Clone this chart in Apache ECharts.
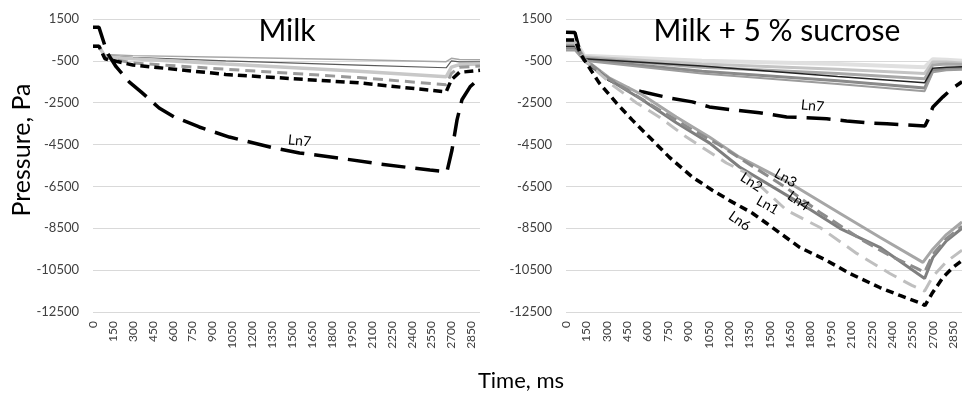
<!DOCTYPE html>
<html>
<head>
<meta charset="utf-8">
<script src="https://cdn.jsdelivr.net/npm/echarts@6/dist/echarts.min.js"></script>
<style>
html,body{margin:0;padding:0;background:#fff;}
#c{width:962px;height:395px;}
</style>
</head>
<body>
<div id="c"></div>
<script>
// ---------- DATA ----------
// Y ticks
var yTicks = [-12500, -10500, -8500, -6500, -4500, -2500, -500, 1500];
var xTickStep = 150;
var xMax = 2915;

// Milk panel (time ms, pressure Pa)
var milkT        = [0, 45, 90, 300, 1000, 2000, 2660, 2700, 2760, 2915];
var milkTop1     = [200, 200, -200, -250, -330, -450, -540, -380, -430, -450];
var milkTop2     = [200, 200, -250, -330, -500, -700, -830, -500, -550, -550];
var milkLight    = [200, 200, -300, -400, -650, -1000, -1260, -800, -680, -650];
var milkGrayDash = [200, 200, -350, -600, -900, -1300, -1640, -1100, -800, -750];
var milkBlackDash= [200, 200, -400, -700, -1150, -1550, -1980, -1400, -1050, -950];
var milkLn7T = [0, 45, 106, 174, 272, 362, 498, 612, 800, 1027, 1367, 1556, 1858, 2160, 2538, 2666, 2704, 2742, 2779, 2840, 2915];
var milkLn7V = [1100, 1100, -100, -780, -1500, -1980, -2750, -3180, -3660, -4140, -4670, -4900, -5150, -5430, -5720, -5800, -4760, -3320, -2360, -1740, -1300];

// Milk + 5 % sucrose panel
var sucT  = [0, 66, 133, 1000, 2000, 2640, 2700, 2800, 2915];
var sucS1 = [500, 500, -250, -500, -650, -800, -420, -450, -500];
var sucS2 = [400, 400, -300, -650, -900, -1100, -550, -550, -600];
var sucS3 = [300, 300, -350, -800, -1100, -1350, -700, -650, -680];
var sucS4 = [200, 200, -400, -750, -1250, -1550, -850, -800, -780];
var sucS5 = [100, 100, -450, -1000, -1450, -1800, -950, -880, -850];
var sucS6 = [0, 0, -500, -1100, -1600, -1950, -1050, -950, -920];

var sucLn7T = [0, 66, 100, 133, 317, 443, 561, 760, 930, 1055, 1225, 1424, 1624, 1771, 1919, 2066, 2214, 2362, 2509, 2642, 2664, 2701, 2775, 2849, 2915];
var sucLn7V = [870, 850, 0, -450, -1400, -1790, -1980, -2270, -2460, -2700, -2840, -2980, -3180, -3220, -3270, -3370, -3460, -3510, -3560, -3610, -3320, -2700, -2220, -1790, -1500];

var sucLn6T = [0, 66, 110, 148, 244, 369, 487, 613, 760, 930, 1077, 1225, 1373, 1476, 1720, 1919, 2089, 2310, 2458, 2620, 2642, 2694, 2775, 2849, 2915];
var sucLn6V = [500, 500, -200, -590, -1550, -2500, -3320, -4140, -5100, -6050, -6680, -7250, -7780, -8260, -9410, -10040, -10660, -11330, -11710, -12100, -12190, -11620, -10850, -10370, -10040];

var sucLn3T = [0, 66, 133, 317, 561, 812, 1055, 1277, 1646, 2015, 2310, 2627, 2700, 2800, 2915];
var sucLn3V = [400, 400, -400, -1310, -2120, -3180, -4140, -5100, -6340, -7780, -8930, -10130, -9500, -8800, -8200];

var sucLn2T = [0, 66, 133, 317, 561, 812, 1055, 1277, 1771, 2015, 2310, 2640, 2700, 2800, 2915];
var sucLn2V = [300, 300, -450, -1400, -2360, -3460, -4420, -5570, -7490, -8500, -9410, -10900, -9900, -9100, -8500];

var sucLn4T = [0, 66, 133, 317, 686, 930, 1129, 1624, 1867, 2185, 2384, 2583, 2640, 2700, 2800, 2915];
var sucLn4V = [350, 350, -420, -1350, -2840, -3800, -4520, -6580, -7730, -9080, -9800, -10420, -10600, -9750, -9000, -8400];

var sucLn1T = [0, 66, 133, 339, 517, 686, 886, 1181, 1328, 1624, 1867, 2140, 2384, 2546, 2640, 2700, 2800, 2915];
var sucLn1V = [350, 350, -450, -1640, -2500, -3180, -4140, -5380, -5860, -7640, -8450, -9700, -10660, -11230, -11500, -10800, -10100, -9550];

// line label anchors [time, pressure]
var milkLn7Label = [1556, -4330];
var sucLn7Label = [1815, -2650];
var sucLn3Label = [1616, -6100];
var sucLn4Label = [1712, -7200];
var sucLn2Label = [1365, -6300];
var sucLn1Label = [1483, -7400];
var sucLn6Label = [1277, -8160];

// ---------- CHART ----------
function pairs(t, v) { return t.map(function (x, i) { return [x, v[i]]; }); }
var FONT = 'Lato, "Open Sans", sans-serif';

function lbl(name, coord, rot) {
  return {
    symbol: 'rect', symbolSize: 1, silent: true,
    itemStyle: { color: 'rgba(0,0,0,0)' },
    label: { show: true, position: 'inside', formatter: name, rotate: rot, color: '#000', fontSize: 14, fontFamily: FONT },
    data: [{ coord: coord, name: name }]
  };
}

function line(idx, t, v, color, width, dash, mp) {
  var s = {
    type: 'line', xAxisIndex: idx, yAxisIndex: idx, data: pairs(t, v),
    symbol: 'none', smooth: false, silent: true,
    lineStyle: { color: color, width: width, type: dash || 'solid', cap: 'butt' },
    z: 3
  };
  if (mp) s.markPoint = mp;
  return s;
}

function xAxis(idx) {
  return {
    type: 'value', gridIndex: idx, min: 0, max: xMax, interval: xTickStep,
    axisLine: { show: false }, axisTick: { show: false }, splitLine: { show: false },
    axisLabel: {
      rotate: 90, margin: 9, fontSize: 12, color: '#404040', fontFamily: FONT,
      formatter: function (v) { return (v % xTickStep === 0) ? String(v) : ''; }
    }
  };
}
function yAxis(idx) {
  return {
    type: 'value', gridIndex: idx, min: yTicks[0], max: yTicks[yTicks.length - 1], interval: 2000,
    axisLine: { show: false }, axisTick: { show: false },
    splitLine: { show: true, lineStyle: { color: '#d9d9d9', width: 1 } },
    axisLabel: { margin: 14, fontSize: 13, color: '#404040', fontFamily: FONT,
      formatter: function (v) { return String(v); } }
  };
}

var chart = echarts.init(document.getElementById('c'), null, { renderer: 'canvas' });

chart.setOption({
  animation: false,
  backgroundColor: '#fff',
  grid: [
    { left: 93, top: 19, width: 387, height: 293 },
    { left: 566, top: 19, width: 396, height: 293 }
  ],
  xAxis: [xAxis(0), xAxis(1)],
  yAxis: [yAxis(0), yAxis(1)],
  graphic: [
    { type: 'text', x: 287, y: 31, style: { text: 'Milk', font: '30px ' + FONT, fill: '#000', textAlign: 'center', textVerticalAlign: 'middle' }, z: 10 },
    { type: 'text', x: 777, y: 31, style: { text: 'Milk + 5 % sucrose', font: '30px ' + FONT, fill: '#000', textAlign: 'center', textVerticalAlign: 'middle' }, z: 10 },
    { type: 'text', x: 521, y: 381, style: { text: 'Time, ms', font: '22px ' + FONT, fill: '#000', textAlign: 'center', textVerticalAlign: 'middle' } },
    { type: 'text', x: 22, y: 150, rotation: Math.PI / 2, style: { text: 'Pressure, Pa', font: '25px ' + FONT, fill: '#000', textAlign: 'center', textVerticalAlign: 'middle' } }
  ],
  series: [
    // Milk
    line(0, milkT, milkTop1, '#a6a6a6', 1.5),
    line(0, milkT, milkTop2, '#595959', 1.2),
    line(0, milkT, milkLight, '#c8c8c8', 3.5),
    line(0, milkT, milkGrayDash, '#9a9a9a', 3, [10, 6]),
    line(0, milkT, milkBlackDash, '#000', 3.5, [9, 5]),
    line(0, milkLn7T, milkLn7V, '#000', 3.5, [24, 10], lbl('Ln7', milkLn7Label, -6)),
    // Milk + 5 % sucrose
    line(1, sucT, sucS1, '#e0e0e0', 4),
    line(1, sucT, sucS2, '#c4c4c4', 3),
    line(1, sucT, sucS3, '#a8a8a8', 3),
    line(1, sucT, sucS5, '#8a8a8a', 3),
    line(1, sucT, sucS6, '#9c9c9c', 2),
    line(1, sucT, sucS4, '#222', 1.5),
    line(1, sucLn7T, sucLn7V, '#000', 3.5, [24, 10], lbl('Ln7', sucLn7Label, -6)),
    line(1, sucLn3T, sucLn3V, '#a6a6a6', 3, null, lbl('Ln3', sucLn3Label, -30)),
    line(1, sucLn2T, sucLn2V, '#7f7f7f', 3, null, lbl('Ln2', sucLn2Label, -33)),
    line(1, sucLn4T, sucLn4V, '#8c8c8c', 3, [12, 6], lbl('Ln4', sucLn4Label, -35)),
    line(1, sucLn1T, sucLn1V, '#bfbfbf', 3, [14, 8], lbl('Ln1', sucLn1Label, -30)),
    line(1, sucLn6T, sucLn6V, '#000', 3.5, [8, 5], lbl('Ln6', sucLn6Label, -35))
  ]
});
</script>
</body>
</html>
